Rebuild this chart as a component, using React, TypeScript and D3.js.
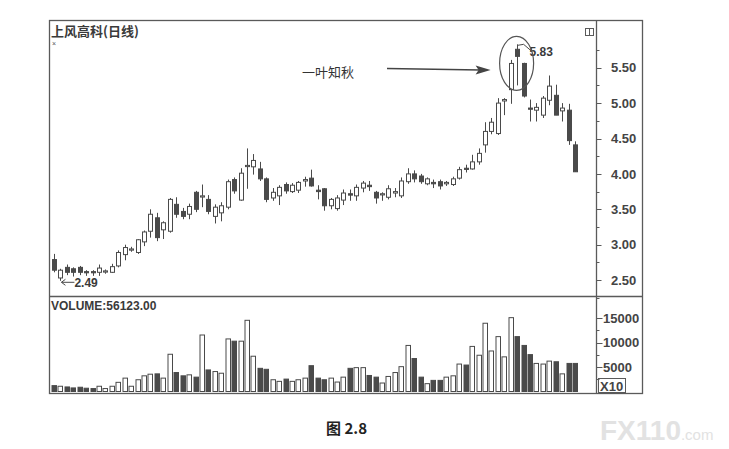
import * as d3 from 'd3';
import React, { useEffect, useRef } from 'react';

// 上风高科 daily candles
const TITLE = '上风高科(日线)';
const VOLUME_LABEL = 'VOLUME:56123.00';
const NOTE = '一叶知秋';
const CAPTION = '图 2.8';

const priceTicks = [2.5, 3.0, 3.5, 4.0, 4.5, 5.0, 5.5];
const volumeTicks = [5000, 10000, 15000];

const open = [
  2.79, 2.53, 2.68, 2.66, 2.68, 2.62, 2.62, 2.61, 2.62, 2.61,
  2.70, 2.86, 2.93, 2.89, 3.04, 3.19, 3.38, 3.21, 3.19, 3.57,
  3.47, 3.43, 3.74, 3.68, 3.64, 3.40, 3.45, 3.53, 3.92, 3.63,
  4.11, 4.10, 4.07, 3.93, 3.66, 3.69, 3.85, 3.75, 3.77, 3.90,
  3.94, 3.77, 3.79, 3.55, 3.51, 3.63, 3.72, 3.69, 3.80, 3.84,
  3.74, 3.71, 3.67, 3.73, 3.69, 3.89, 4.00, 3.97, 3.86, 3.88,
  3.89, 3.86, 3.85, 3.94, 4.08, 4.07, 4.17, 4.41, 4.60, 4.57,
  5.03, 5.19, 5.76, 5.56, 4.93, 4.90, 4.83, 5.04, 5.11, 4.89,
  4.90, 4.41,
];
const high = [
  2.87, 2.66, 2.72, 2.68, 2.70, 2.64, 2.64, 2.72, 2.65, 2.73,
  2.92, 3.00, 2.97, 3.08, 3.20, 3.50, 3.45, 3.33, 3.66, 3.67,
  3.52, 3.58, 3.76, 3.85, 3.70, 3.57, 3.60, 3.92, 3.95, 4.08,
  4.36, 4.28, 4.17, 3.95, 3.80, 3.84, 3.88, 3.87, 3.90, 3.96,
  4.06, 3.84, 3.80, 3.66, 3.70, 3.78, 3.78, 3.85, 3.90, 3.90,
  3.76, 3.74, 3.84, 3.80, 3.95, 4.08, 4.05, 4.00, 3.95, 3.92,
  3.92, 3.90, 3.96, 4.10, 4.13, 4.27, 4.36, 4.73, 4.79, 5.07,
  5.07, 5.61, 5.83, 5.57, 5.05, 5.00, 5.10, 5.39, 5.26, 5.00,
  4.99, 4.46,
];
const low = [
  2.61, 2.49, 2.57, 2.55, 2.57, 2.56, 2.56, 2.56, 2.59, 2.60,
  2.68, 2.78, 2.90, 2.87, 2.98, 3.10, 3.05, 3.08, 3.17, 3.38,
  3.36, 3.36, 3.46, 3.53, 3.43, 3.30, 3.33, 3.50, 3.72, 3.62,
  3.79, 3.99, 3.90, 3.60, 3.62, 3.56, 3.72, 3.73, 3.73, 3.82,
  3.82, 3.64, 3.48, 3.50, 3.48, 3.56, 3.62, 3.62, 3.74, 3.76,
  3.58, 3.62, 3.64, 3.67, 3.66, 3.86, 3.88, 3.86, 3.84, 3.80,
  3.78, 3.83, 3.83, 3.92, 4.02, 4.06, 4.13, 4.30, 4.56, 4.55,
  4.83, 4.99, 5.25, 5.08, 4.74, 4.74, 4.79, 4.97, 4.83, 4.74,
  4.41, 4.03,
];
const close = [
  2.64, 2.64, 2.61, 2.61, 2.61, 2.61, 2.61, 2.67, 2.63, 2.69,
  2.89, 2.96, 2.94, 3.07, 3.18, 3.43, 3.10, 3.31, 3.64, 3.43,
  3.40, 3.54, 3.50, 3.69, 3.47, 3.53, 3.55, 3.89, 3.76, 4.01,
  4.12, 4.19, 3.93, 3.64, 3.74, 3.81, 3.76, 3.84, 3.88, 3.92,
  3.83, 3.75, 3.55, 3.64, 3.66, 3.73, 3.70, 3.81, 3.87, 3.82,
  3.66, 3.72, 3.79, 3.75, 3.90, 4.00, 3.93, 3.89, 3.93, 3.86,
  3.83, 3.88, 3.93, 4.06, 4.07, 4.17, 4.29, 4.60, 4.73, 5.00,
  5.05, 5.56, 5.66, 5.10, 4.92, 4.94, 5.07, 5.24, 4.83, 4.93,
  4.47, 4.03,
];
const volume = [
  1200, 1070, 930, 730, 870, 670, 600, 1070, 600, 1070,
  1870, 2730, 1070, 2400, 3200, 3530, 3600, 2730, 7600, 3870,
  3200, 3400, 2930, 11530, 4400, 4070, 3730, 10730, 10270, 10270,
  14530, 7200, 4730, 4530, 2400, 2070, 2530, 2070, 2400, 2730,
  5270, 2730, 2400, 2730, 1930, 2930, 4730, 4870, 4870, 3270,
  2930, 1730, 3070, 3870, 5070, 9400, 6730, 2930, 1600, 2270,
  2270, 2930, 3200, 5600, 5400, 9200, 7400, 13930, 8270, 11200,
  7070, 15070, 11200, 9400, 7530, 5730, 5600, 6200, 6070, 3600,
  5730, 5730,
];

const INK = '#4a4a4a';
const FRAME = '#5a5a5a';
const LABEL_FONT = '"Liberation Sans", Arial, sans-serif';
const CJK_FONT = '"Noto Sans CJK SC", sans-serif';

export default function App() {
  const svgRef = useRef<SVGSVGElement>(null);

  useEffect(() => {
    if (!svgRef.current) return;
    const svg = d3.select(svgRef.current);
    svg.selectAll('*').remove();

    const left = 49.5, right = 642.5, top = 20.5, bottom = 393.5;
    const axisX = 596.5, split = 296.5;

    const days = open.map((_, i) => i);
    const x = d3.scalePoint<number>().domain(days).range([54, 575]);
    const y = d3.scaleLinear().domain([2.5, 5.5]).range([280.1, 67.7]);
    const yv = d3.scaleLinear().domain([0, 15000]).range([391.5, 318]);

    svg.append('rect').attr('width', 729).attr('height', 449).attr('fill', '#fff');

    // frame
    const frame = svg.append('g').attr('stroke', FRAME).attr('fill', 'none');
    frame.append('rect')
      .attr('x', left).attr('y', top)
      .attr('width', right - left).attr('height', bottom - top)
      .attr('stroke-width', 1.3);
    frame.append('line').attr('x1', axisX).attr('x2', axisX).attr('y1', top).attr('y2', bottom).attr('stroke-width', 1.3);
    frame.append('line').attr('x1', left).attr('x2', right).attr('y1', split).attr('y2', split).attr('stroke-width', 1.3);

    // price axis
    const pAxis = svg.append('g');
    d3.range(2.25, 5.8, 0.25).forEach(v => {
      const major = priceTicks.some(t => Math.abs(t - v) < 1e-6);
      const ty = Math.round(y(v)) + 0.5;
      pAxis.append('line')
        .attr('x1', axisX).attr('x2', axisX + (major ? 5 : 3))
        .attr('y1', ty).attr('y2', ty)
        .attr('stroke', FRAME);
    });
    pAxis.selectAll('text')
      .data(priceTicks)
      .join('text')
      .attr('x', 611)
      .attr('y', d => y(d))
      .attr('dy', '0.36em')
      .attr('font-family', LABEL_FONT)
      .attr('font-weight', 'bold')
      .attr('font-size', 13)
      .attr('fill', '#444')
      .text(d => d.toFixed(2));

    // volume axis
    const vAxis = svg.append('g');
    [2500, 5000, 7500, 10000, 12500, 15000].forEach(v => {
      const major = volumeTicks.includes(v);
      const ty = Math.round(yv(v)) + 0.5;
      vAxis.append('line')
        .attr('x1', axisX).attr('x2', axisX + (major ? 6 : 3))
        .attr('y1', ty).attr('y2', ty)
        .attr('stroke', FRAME);
    });
    vAxis.selectAll('text')
      .data(volumeTicks)
      .join('text')
      .attr('x', 603)
      .attr('y', d => yv(d))
      .attr('dy', '0.36em')
      .attr('font-family', LABEL_FONT)
      .attr('font-weight', 'bold')
      .attr('font-size', 13)
      .attr('fill', '#444')
      .text(d => d);
    vAxis.append('rect')
      .attr('x', 598.5).attr('y', 378.5).attr('width', 27).attr('height', 14)
      .attr('fill', 'none').attr('stroke', FRAME);
    vAxis.append('text')
      .attr('x', 600).attr('y', 390.5)
      .attr('font-family', LABEL_FONT).attr('font-weight', 'bold')
      .attr('font-size', 13).attr('fill', '#444')
      .text('X10');

    // titles
    svg.append('text')
      .attr('x', 51).attr('y', 36)
      .attr('font-family', CJK_FONT).attr('font-weight', 'bold')
      .attr('font-size', 13).attr('fill', '#3a3a3a')
      .text(TITLE);
    svg.append('text')
      .attr('x', 52).attr('y', 46)
      .attr('font-family', LABEL_FONT).attr('font-size', 7).attr('fill', '#555')
      .text('×');
    svg.append('text')
      .attr('x', 51).attr('y', 310)
      .attr('font-family', LABEL_FONT).attr('font-weight', 'bold')
      .attr('font-size', 12).attr('fill', '#3a3a3a')
      .text(VOLUME_LABEL);

    // little window icon
    svg.append('rect').attr('x', 585.5).attr('y', 28.5).attr('width', 8).attr('height', 7)
      .attr('fill', 'none').attr('stroke', FRAME);
    svg.append('line').attr('x1', 589.5).attr('x2', 589.5).attr('y1', 28.5).attr('y2', 35.5)
      .attr('stroke', FRAME);

    // candles
    const candles = svg.append('g');
    days.forEach(i => {
      const cx = Math.round(x(i) || 0) + 0.5;
      const up = close[i] >= open[i];
      candles.append('line')
        .attr('x1', cx).attr('x2', cx)
        .attr('y1', y(high[i])).attr('y2', y(low[i]))
        .attr('stroke', INK).attr('stroke-width', 1);
      const yTop = y(Math.max(open[i], close[i]));
      const yBot = y(Math.min(open[i], close[i]));
      const h = Math.max(yBot - yTop, 1.2);
      candles.append('rect')
        .attr('x', cx - 2).attr('y', yTop)
        .attr('width', 4).attr('height', h)
        .attr('fill', up ? '#fff' : INK)
        .attr('stroke', INK).attr('stroke-width', 1);
    });

    // volume bars
    svg.append('g')
      .selectAll('rect')
      .data(days)
      .join('rect')
      .attr('x', i => Math.round(x(i) || 0) - 2)
      .attr('y', i => yv(volume[i]))
      .attr('width', 4.5)
      .attr('height', i => yv(0) - yv(volume[i]))
      .attr('fill', i => (close[i] >= open[i] ? '#fff' : INK))
      .attr('stroke', INK)
      .attr('stroke-width', 1);

    // low marker
    const lowIdx = d3.minIndex(low);
    const lx = (x(lowIdx) || 0) + 1;
    const ly = y(low[lowIdx]) + 1.5;
    const mark = svg.append('g').attr('stroke', INK).attr('fill', 'none').attr('stroke-width', 1);
    mark.append('line').attr('x1', lx).attr('x2', lx + 13).attr('y1', ly).attr('y2', ly);
    mark.append('path').attr('d', `M${lx + 4},${ly - 3} L${lx},${ly} L${lx + 4},${ly + 3}`);
    svg.append('text')
      .attr('x', lx + 13).attr('y', ly + 5)
      .attr('font-family', LABEL_FONT).attr('font-weight', 'bold')
      .attr('font-size', 12).attr('fill', '#3a3a3a')
      .text(low[lowIdx].toFixed(2));

    // high marker
    const highIdx = d3.maxIndex(high);
    const hx = (x(highIdx) || 0) + 0.5;
    const hy = y(high[highIdx]);
    svg.append('path')
      .attr('d', `M${hx},${hy + 1} L${hx + 6},${hy} L${hx + 13},${hy + 6}`)
      .attr('stroke', INK).attr('fill', 'none');
    svg.append('text')
      .attr('x', hx + 12).attr('y', hy + 12)
      .attr('font-family', LABEL_FONT).attr('font-weight', 'bold')
      .attr('font-size', 12).attr('fill', '#3a3a3a')
      .text(high[highIdx].toFixed(2));

    // circle around the top
    svg.append('ellipse')
      .attr('cx', hx - 1).attr('cy', hy + 19)
      .attr('rx', 17).attr('ry', 27)
      .attr('fill', 'none').attr('stroke', '#555').attr('stroke-width', 1.2);

    // note with arrow
    svg.append('text')
      .attr('x', 302).attr('y', 77)
      .attr('font-family', CJK_FONT).attr('font-size', 13).attr('fill', '#333')
      .text(NOTE);
    const tipX = hx - 27, tipY = 70;
    svg.append('line')
      .attr('x1', 387).attr('y1', 68.5).attr('x2', tipX - 10).attr('y2', tipY)
      .attr('stroke', '#444').attr('stroke-width', 1.5);
    svg.append('path')
      .attr('d', `M${tipX},${tipY} L${tipX - 15},${tipY - 4.5} L${tipX - 12},${tipY} L${tipX - 15},${tipY + 4.5} Z`)
      .attr('fill', '#444');

    // caption and watermark
    svg.append('text')
      .attr('x', 326).attr('y', 434)
      .attr('font-family', CJK_FONT).attr('font-weight', 'bold')
      .attr('font-size', 15).attr('fill', '#222')
      .text(CAPTION);
    const wm = svg.append('text')
      .attr('x', 600).attr('y', 440)
      .attr('font-family', LABEL_FONT).attr('font-weight', 'bold')
      .attr('fill', '#e2e2e2');
    wm.append('tspan').attr('font-size', 28).text('FX110');
    wm.append('tspan').attr('font-size', 15).attr('font-weight', 'normal').text('.com');
  }, []);

  return (
    <svg
      ref={svgRef}
      width={729}
      height={449}
      style={{ position: 'absolute', left: 0, top: 0, display: 'block' }}
    />
  );
}
